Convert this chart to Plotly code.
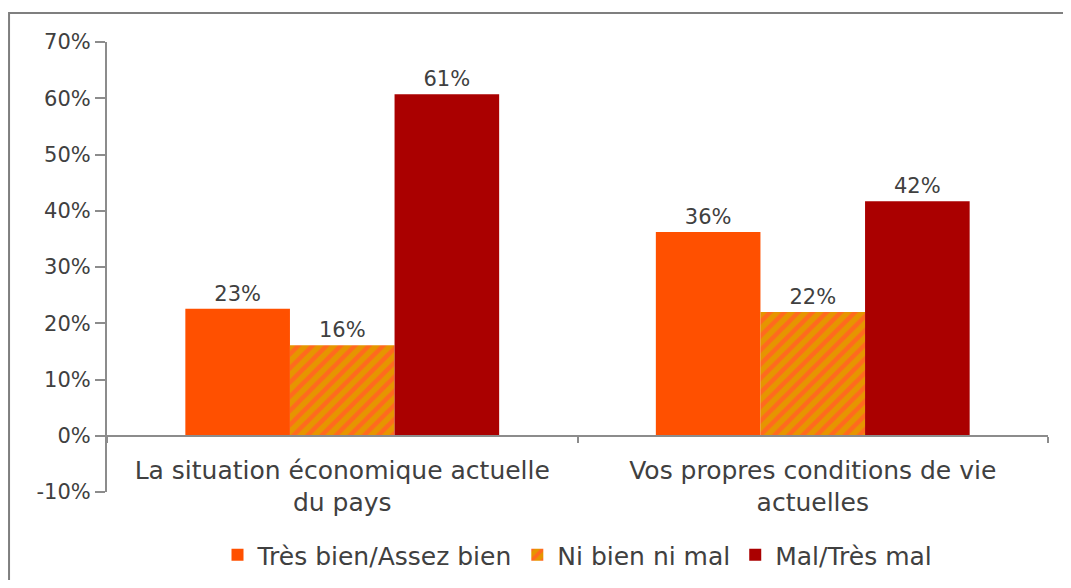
import plotly.graph_objects as go

categories = [
    "La situation économique actuelle<br>du pays",
    "Vos propres conditions de vie<br>actuelles",
]
series_names = ["Très bien/Assez bien", "Ni bien ni mal", "Mal/Très mal"]
tres_bien = [22.6, 36.2]
ni_bien = [16.1, 22.0]
mal = [60.7, 41.7]
labels_tres_bien = ["23%", "36%"]
labels_ni_bien = ["16%", "22%"]
labels_mal = ["61%", "42%"]
y_ticks = [-10, 0, 10, 20, 30, 40, 50, 60, 70]
y_tick_text = ["-10%", "0%", "10%", "20%", "30%", "40%", "50%", "60%", "70%"]

FONT = "'DejaVu Sans', sans-serif"
TEXT = "#404040"
AXIS = "#8c8c8c"

fig = go.Figure()

common = dict(
    textposition="outside",
    textfont={"size": 21, "color": TEXT, "family": FONT},
    cliponaxis=False,
)

fig.add_trace(go.Bar(
    x=categories, y=tres_bien, name=series_names[0], text=labels_tres_bien,
    marker={"color": "#FF5000", "line": {"width": 0}}, **common,
))
fig.add_trace(go.Bar(
    x=categories, y=ni_bien, name=series_names[1], text=labels_ni_bien,
    marker={
        "color": "#E69500",
        "line": {"width": 0},
        "pattern": {"shape": "/", "bgcolor": "#E69500", "fgcolor": "#FF6A1E",
                    "size": 10, "solidity": 0.45, "fillmode": "replace"},
    },
    **common,
))
fig.add_trace(go.Bar(
    x=categories, y=mal, name=series_names[2], text=labels_mal,
    marker={"color": "#AA0000", "line": {"width": 0}}, **common,
))

# cadre gris autour du graphique
fig.add_shape(
    type="rect", xref="paper", yref="paper",
    x0=-0.1041, x1=1.2, y0=-0.4, y1=1.0644,
    line={"color": "#7f7f7f", "width": 2}, fillcolor="rgba(0,0,0,0)",
    layer="below",
)

fig.update_layout(
    width=1055,
    height=572,
    margin={"l": 99, "r": 15, "t": 34, "b": 88, "autoexpand": False},
    paper_bgcolor="white",
    plot_bgcolor="white",
    barmode="group",
    bargap=0.333,
    bargroupgap=0,
    font={"family": FONT, "color": TEXT, "size": 21},
    showlegend=True,
    legend={
        "orientation": "h",
        "x": 0.5,
        "xanchor": "center",
        "y": -0.14,
        "yanchor": "middle",
        "font": {"size": 25, "color": TEXT},
        "itemwidth": 30,
        "tracegroupgap": 0,
    },
    xaxis={
        "type": "category",
        "anchor": "free",
        "position": (0 - (-10)) / 80,
        "showline": True,
        "linecolor": AXIS,
        "linewidth": 2,
        "ticks": "outside",
        "tickson": "boundaries",
        "ticklen": 6,
        "tickcolor": AXIS,
        "tickwidth": 2,
        "ticklabelstandoff": 12,
        "tickfont": {"size": 25, "color": TEXT},
        "showgrid": False,
    },
    yaxis={
        "range": [-10, 70],
        "tickvals": y_ticks,
        "ticktext": y_tick_text,
        "showline": True,
        "linecolor": AXIS,
        "linewidth": 2,
        "ticks": "outside",
        "ticklen": 10,
        "tickcolor": AXIS,
        "tickwidth": 2,
        "tickfont": {"size": 21, "color": TEXT},
        "showgrid": False,
        "zeroline": False,
    },
)

fig.write_html("out.html")
